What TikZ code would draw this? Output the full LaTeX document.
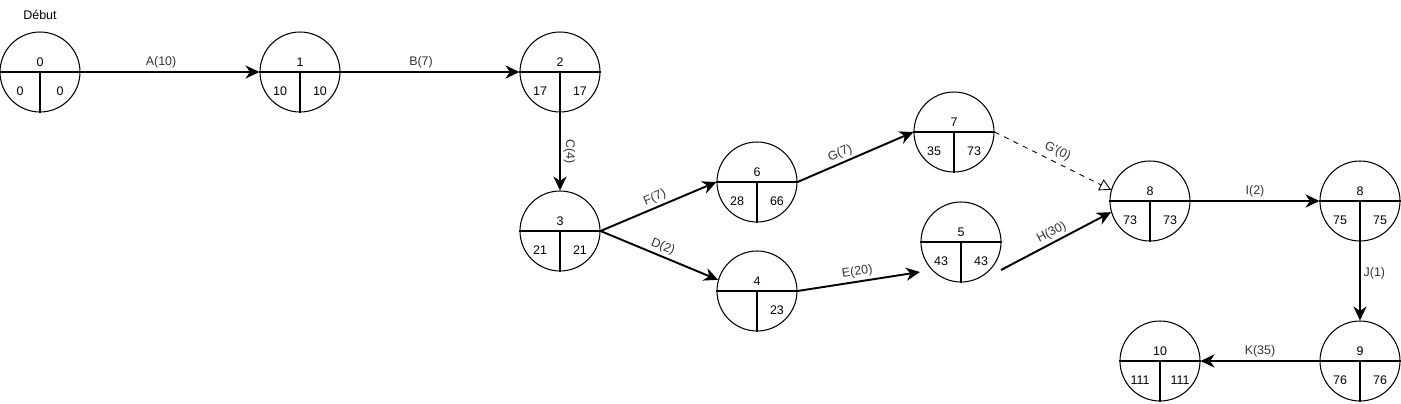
\documentclass[tikz,border=0pt]{standalone}
\usepackage{fontspec}
\setmainfont{Liberation Sans}
\usetikzlibrary{arrows.meta,positioning,calc}
\tikzstyle{evt} = [draw, circle, minimum size=1.6cm, inner sep=0pt, line width=0.6pt]
\tikzstyle{num} = [font=\fontsize{7.1}{8.5}\selectfont, inner sep=0pt]
\tikzstyle{lab} = [font=\fontsize{7.1}{8.5}\selectfont, text=black!80, inner sep=1.5pt]
\tikzstyle{act} = [-{Stealth[length=8pt,width=7.5pt]}, line width=1.1pt]
\tikzstyle{dummy} = [-{Triangle[open,length=6.5pt,width=7pt]}, dashed, line width=0.5pt]
% event circle: name, position, number, early date, late date
\newcommand{\event}[5]{%
  \node[evt] (#1) at (#2) {};
  \draw[line width=0.6pt] (#1.west) -- (#1.east) (#1.center) -- (#1.south);
  \node[num] at ([yshift=0.2cm]#1.center) {#3};
  \node[num] at ([xshift=-0.4cm,yshift=-0.38cm]#1.center) {#4};
  \node[num] at ([xshift=0.4cm,yshift=-0.38cm]#1.center) {#5};
}

\begin{document}
\begin{tikzpicture}[x=0.02cm, y=-0.02cm]
		\useasboundingbox (0,0) rectangle (1401,403);
		\event{e0}{40,72}{0}{0}{0}
		\node[num, above=1.05cm of e0.center] (start) {Début};
		\event{e1}{300,72}{1}{10}{10}
		\event{e2}{560,72}{2}{17}{17}
		\event{e3}{560,231}{3}{21}{21}
		\event{e6}{757,182}{6}{28}{66}
		\event{e4}{757,291}{4}{}{23}
		\event{e7}{954,132}{7}{35}{73}
		\event{e5}{961,242}{5}{43}{43}
		\event{e8}{1150,201}{8}{73}{73}
		\event{e8b}{1360,201}{8}{75}{75}
		\event{e9}{1360,361}{9}{76}{76}
		\event{e10}{1160,361}{10}{111}{111}
		\coordinate (e5in) at (920,272);
		\coordinate (e5out) at (1001,270);
		
		\draw[act] (e0) -- node[lab, above, pos=0.45] {A(10)} (e1);
		\draw[act] (e1) -- node[lab, above, pos=0.45] {B(7)} (e2);
		\draw[act] (e2) -- node[lab, sloped, above] {C(4)} (e3);
		\draw[act] (e3.east) -- node[lab, sloped, above] {F(7)} (e6.west);
		\draw[act] (e3.east) -- node[lab, sloped, above] {D(2)} (e4.164);
		\draw[act] (e6.east) -- node[lab, sloped, above, pos=0.4] {G(7)} (e7.west);
		\draw[act] (e4.east) -- node[lab, sloped, above] {E(20)} (e5in);
		\draw[dummy] (e7.east) -- node[lab, sloped, above, inner sep=2.5pt] {G\textquotesingle(0)} (e8.164);
		\draw[act] (e5out) -- node[lab, sloped, above] {H(30)} (e8.196);
		\draw[act] (e8) -- node[lab, above] {I(2)} (e8b);
		\draw[act] (e8b) -- node[lab, right, pos=0.4] {J(1)} (e9);
		\draw[act] (e9) -- node[lab, above] {K(35)} (e10);
\end{tikzpicture}
\end{document}
